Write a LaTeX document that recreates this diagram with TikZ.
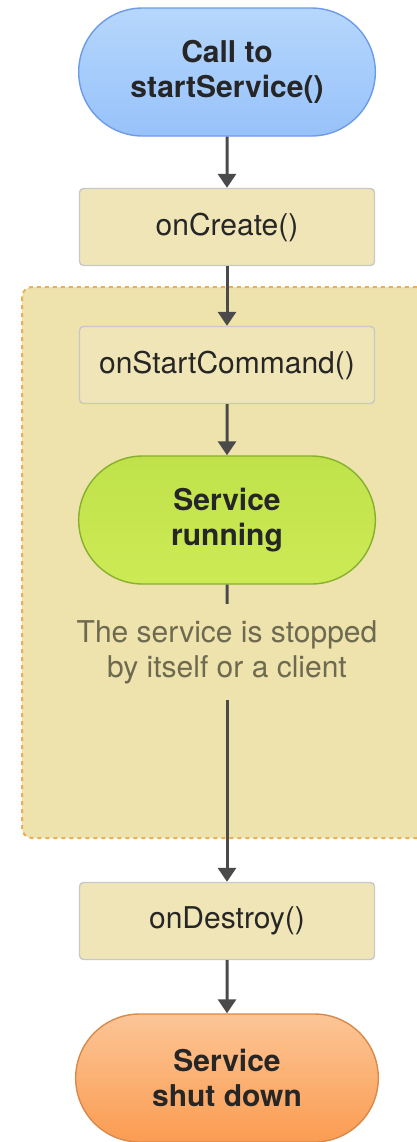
\documentclass[tikz,border=0pt]{standalone}
\usepackage{fontspec}
\setmainfont{TeX Gyre Heros}
\usepackage{xcolor}
\usetikzlibrary{shapes.misc}
\usetikzlibrary{arrows.meta}
\definecolor{startTop}{HTML}{B6D7FD}
\definecolor{startBot}{HTML}{97C2FA}
\definecolor{startLine}{HTML}{6D9BE8}
\definecolor{runTop}{HTML}{BFE24A}
\definecolor{runBot}{HTML}{CDEA55}
\definecolor{runLine}{HTML}{86B02E}
\definecolor{downTop}{HTML}{FCC596}
\definecolor{downBot}{HTML}{FB9C52}
\definecolor{downLine}{HTML}{D78A4C}
\definecolor{boxfill}{HTML}{EFE5B6}
\definecolor{boxline}{HTML}{C8C8C8}
\definecolor{regionfill}{HTML}{EEE2AD}
\definecolor{regionline}{HTML}{E8B057}
\definecolor{arrowgray}{HTML}{4A4A4A}
\definecolor{notegray}{HTML}{6E6A50}

\begin{document}
\begin{tikzpicture}[x=0.5pt,y=-0.5pt,
  pill/.style={rounded rectangle, line width=0.7pt, minimum width=155pt,
    minimum height=64pt, align=center, text=black!85,
    font=\bfseries\fontsize{15}{17.5}\selectfont},
  callbox/.style={rectangle, rounded corners=2pt, draw=boxline, fill=boxfill,
    line width=0.7pt, minimum width=147.5pt, minimum height=38.5pt,
    text=black!85, font=\fontsize{15}{17.5}\selectfont},
  flow/.style={draw=arrowgray, line width=1.5pt, -{Triangle[width=9pt,length=7pt]}},
  plain/.style={draw=arrowgray, line width=1.5pt}]
  \useasboundingbox (0,0) rectangle (417,1142);
  % the started part
  \path[fill=regionfill, draw=regionline, line width=1pt, dash pattern=on 2pt off 2pt,
    rounded corners=5pt] (22,287) rectangle (440,838);

  \node[pill, top color=startTop, bottom color=startBot, draw=startLine] (start) at (227,72) {Call to\\startService()};
  \node[callbox] (create) at (227,227) {onCreate()};
  \node[callbox] (command) at (227,365) {onStartCommand()};
  \node[pill, top color=runTop, bottom color=runBot, draw=runLine] (running) at (227,520) {Service\\running};
  \node[align=center, text=notegray, inner ysep=8pt,
    font=\fontsize{15}{17.5}\selectfont] (stopped) at (227,652) {The service is stopped\\by itself or a client};
  \node[callbox] (destroy) at (227,921) {onDestroy()};
  \node[pill, minimum width=158pt, top color=downTop, bottom color=downBot, draw=downLine] (shutdown) at (227,1078) {Service\\shut down};

  \draw[flow] (start) -- (create);
  \draw[flow] (create) -- (command);
  \draw[flow] (command) -- (running);
  \draw[plain] (running) -- (stopped);
  \draw[flow] (stopped) -- (destroy);
  \draw[flow] (destroy) -- (shutdown);
\end{tikzpicture}
\end{document}
